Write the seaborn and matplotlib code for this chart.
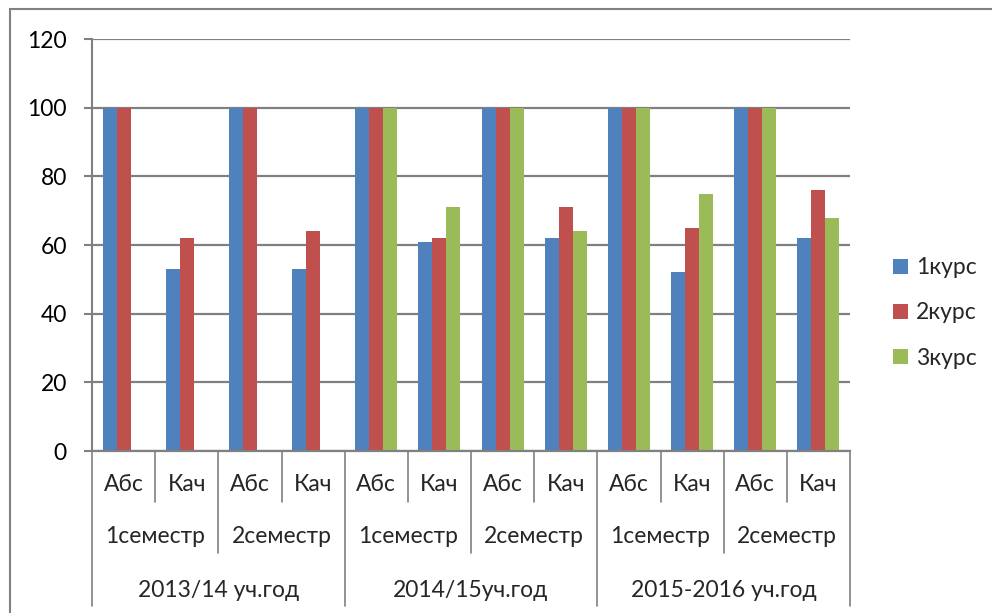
import matplotlib
matplotlib.use('Agg')
import matplotlib.pyplot as plt
from matplotlib.patches import Rectangle
import seaborn as sns
import pandas as pd

# data
years = ['2013/14 уч.год', '2014/15уч.год', '2015-2016 уч.год']
semesters = ['1семестр', '2семестр']
kinds = ['Абс', 'Кач']
series = ['1курс', '2курс', '3курс']
kurs1 = [100, 53, 100, 53, 100, 61, 100, 62, 100, 52, 100, 62]
kurs2 = [100, 62, 100, 64, 100, 62, 100, 71, 100, 65, 100, 76]
kurs3 = [None, None, None, None, 100, 71, 100, 64, 100, 75, 100, 68]
colors = ['#4F81BD', '#C0504D', '#9BBB59']

sns.set_theme(style='white')
plt.rcParams['font.family'] = ['Lato', 'Noto Sans', 'DejaVu Sans']
FS = 16.5

cats = list(range(12))
rows = []
for name, vals in zip(series, [kurs1, kurs2, kurs3]):
    for c, v in zip(cats, vals):
        if v is not None:
            rows.append({'cat': c, 'kurs': name, 'value': v})
df = pd.DataFrame(rows)

fig = plt.figure(figsize=(9.92, 6.13), dpi=100)
fig.patch.set_facecolor('white')
ax = fig.add_axes([92 / 992, 1 - 451 / 613, (850 - 92) / 992, (451 - 39) / 613])

sns.barplot(data=df, x='cat', y='value', hue='kurs', hue_order=series,
            order=cats, palette=colors, width=0.665, linewidth=0,
            saturation=1, ax=ax)

grid_c = '#808080'
ax.set_ylim(0, 120)
ax.set_xlim(-0.5, 11.5)
ax.set_yticks(range(0, 121, 20))
ax.yaxis.grid(True, color=grid_c, linewidth=1.6)
ax.set_axisbelow(True)
for s in ['top', 'right']:
    ax.spines[s].set_visible(False)
ax.spines['left'].set_color(grid_c)
ax.spines['left'].set_linewidth(1.5)
ax.spines['bottom'].set_color(grid_c)
ax.spines['bottom'].set_linewidth(1.6)
ax.tick_params(axis='y', length=6, width=1.5, color=grid_c, pad=12,
               labelsize=FS, left=True, labelcolor='black')
ax.set_xticks([])
ax.set_xlabel('')
ax.set_ylabel('')

# multi-level category axis
trans = ax.get_xaxis_transform()
depth = [-0.1238, -0.2476, -0.375]
for i in range(13):
    b = i - 0.5
    if i % 4 == 0:
        lvl = 2
    elif i % 2 == 0:
        lvl = 1
    else:
        lvl = 0
    ax.plot([b, b], [0, depth[lvl]], color=grid_c, linewidth=1.2,
            transform=trans, clip_on=False)

for c in cats:
    ax.text(c, -0.0825, kinds[c % 2], transform=trans, ha='center',
            va='center', fontsize=FS)
for j in range(6):
    ax.text(j * 2 + 0.5, -0.2087, semesters[j % 2], transform=trans,
            ha='center', va='center', fontsize=FS)
for k, y in enumerate(years):
    ax.text(k * 4 + 1.5, -0.3374, y, transform=trans, ha='center',
            va='center', fontsize=FS)

handles, labels = ax.get_legend_handles_labels()
ax.legend_.remove()
fig.legend(handles, labels, loc='center left',
           bbox_to_anchor=(893 / 992, 1 - 313 / 613), frameon=False,
           fontsize=FS, handlelength=0.65, handleheight=0.65,
           handletextpad=0.35, labelspacing=1.05, borderpad=0,
           borderaxespad=0)

# chart outer border
fig.patches.append(Rectangle((10 / 992, -0.1), 1.2, 1 - 9 / 613 + 0.1,
                             transform=fig.transFigure, fill=False,
                             edgecolor=grid_c, linewidth=1.5))

fig.savefig('out.png', dpi=100)
